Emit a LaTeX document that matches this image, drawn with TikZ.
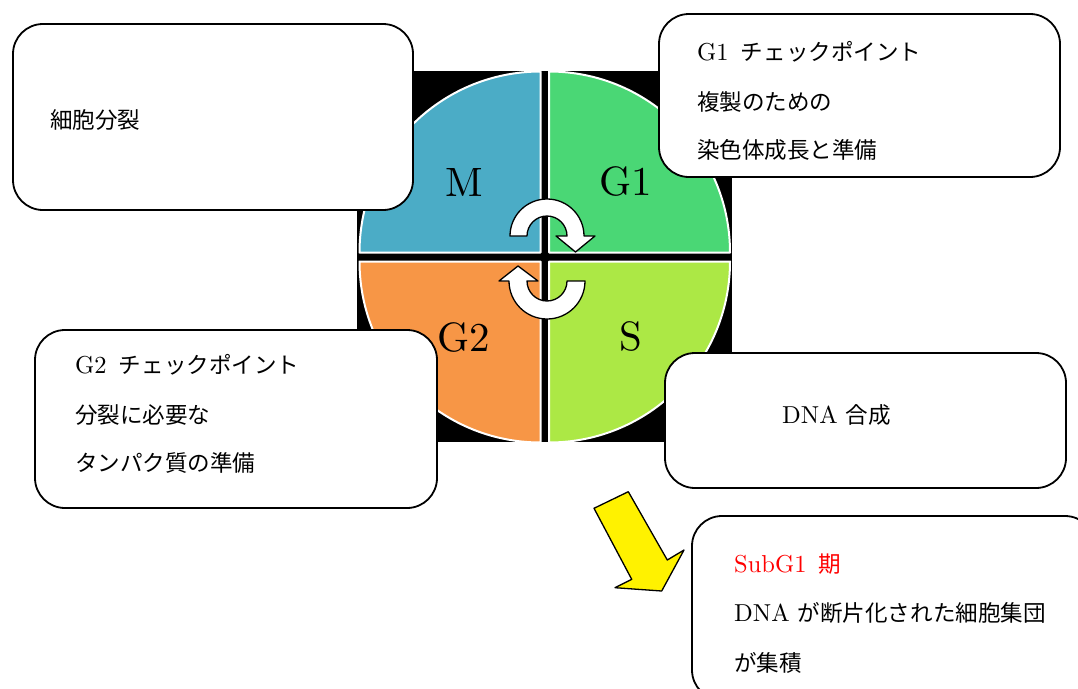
\documentclass[tikz,border=0pt]{standalone}
\usepackage{fontspec}
\setmainfont{lmroman10-regular.otf}
\newfontfamily\jp{Noto Sans CJK JP}[Scale=0.92]
\usetikzlibrary{calc}

\definecolor{phaseM}{HTML}{4BACC6}
\definecolor{phaseGa}{HTML}{4AD775}
\definecolor{phaseS}{HTML}{ACE845}
\definecolor{phaseGb}{HTML}{F79646}

\begin{document}
\begin{tikzpicture}[x=1pt,y=-1pt,line join=round]
\tikzset{quarter/.style={fill=#1,draw=white,line width=2pt}}
\tikzset{phase/.style={inner sep=0,font=\fontsize{41}{48}\selectfont}}
\tikzset{turn/.style={fill=white,draw=black,line width=1.3pt}}
\tikzset{infobox/.style={draw=black,fill=white,line width=1.8pt,rounded corners=30pt,inner sep=0}}
\tikzset{txt/.style={anchor=base west,inner sep=0,font=\fontsize{24.5}{27}\selectfont}}

\fill[white] (0,0) rectangle (1078,688);
\useasboundingbox (0,0) rectangle (1078,688);

% the cycle - black square behind four quarter discs
\coordinate (o) at (544.5,256.5);
\coordinate (m) at (540.5,252.5);
\coordinate (g1) at (549,252.5);
\coordinate (s) at (549,261.5);
\coordinate (g2) at (540.5,261.5);

\fill[black] (357,71) rectangle (732,442);

\draw[quarter=phaseM] (m) -- +(-181,0) arc[start angle=180,end angle=270,radius=181] -- cycle;
\draw[quarter=phaseGa] (g1) -- +(181,0) arc[start angle=0,end angle=-90,radius=181] -- cycle;
\draw[quarter=phaseS] (s) -- +(181,0) arc[start angle=0,end angle=90,radius=181] -- cycle;
\draw[quarter=phaseGb] (g2) -- +(-181,0) arc[start angle=180,end angle=90,radius=181] -- cycle;

\node[phase] (lm) at (464,182) {M};
\node[phase] (lg1) at (626,181) {G1};
\node[phase] (ls) at (631,336) {S};
\node[phase] (lg2) at (464,337) {G2};

% turning arrows in the middle
\coordinate (tc) at (547,236);
\coordinate (bc) at (547,281);

\draw[turn] ($(tc)+(-37,0)$) arc[start angle=180,end angle=360,radius=37]
  -- ($(tc)+(48,0)$) -- ($(tc)+(28.5,16)$) -- ($(tc)+(9,0)$) -- ($(tc)+(20,0)$)
  arc[start angle=0,end angle=-180,radius=20] -- cycle;

\draw[turn] ($(bc)+(38,0)$) arc[start angle=0,end angle=180,radius=38]
  -- ($(bc)+(-48,0)$) -- ($(bc)+(-29,-15)$) -- ($(bc)+(-9,0)$) -- ($(bc)+(-20,0)$)
  arc[start angle=180,end angle=0,radius=20] -- cycle;

% call-out boxes
\node[infobox,minimum width=400pt,minimum height=186pt] (mbox) at (213,117) {};
\node[infobox,minimum width=401pt,minimum height=163pt] (g1box) at (859.5,95.5) {};
\node[infobox,minimum width=402pt,minimum height=178pt] (g2box) at (236,419) {};
\node[infobox,minimum width=401pt,minimum height=135pt] (sbox) at (865.5,420.5) {};
\node[infobox,minimum width=403pt,minimum height=184pt] (subbox) at (893.5,608) {};

\node[txt] (mtxt) at (50,128.5) {\jp 細胞分裂};

\node[txt] (g1a) at (697,60.5) {G1\enspace{\jp チェックポイント}};
\node[txt] (g1b) at (697,110.5) {\jp 複製のための};
\node[txt] (g1c) at (697,158.5) {\jp 染色体成長と準備};

\node[txt] (g2a) at (75,373.5) {G2\enspace{\jp チェックポイント}};
\node[txt] (g2b) at (75,423.5) {\jp 分裂に必要な};
\node[txt] (g2c) at (75,471.5) {\jp タンパク質の準備};

\node[txt] (stxt) at (782,423) {DNA {\jp 合成}};

\node[txt,text=red] (suba) at (734,572) {SubG1\enspace{\jp 期}};
\node[txt] (subb) at (734,621.5) {DNA {\jp が断片化された細胞集団}};
\node[txt] (subc) at (734,671) {\jp が集積};

% yellow arrow towards the SubG1 box
\draw[fill=yellow,draw=black,line width=1.3pt] (594,508.3) -- (628.3,491.7) -- (667.3,560)
  -- (684,550) -- (661.7,591) -- (615,587.7) -- (631.7,579.3) -- cycle;

\end{tikzpicture}
\end{document}
